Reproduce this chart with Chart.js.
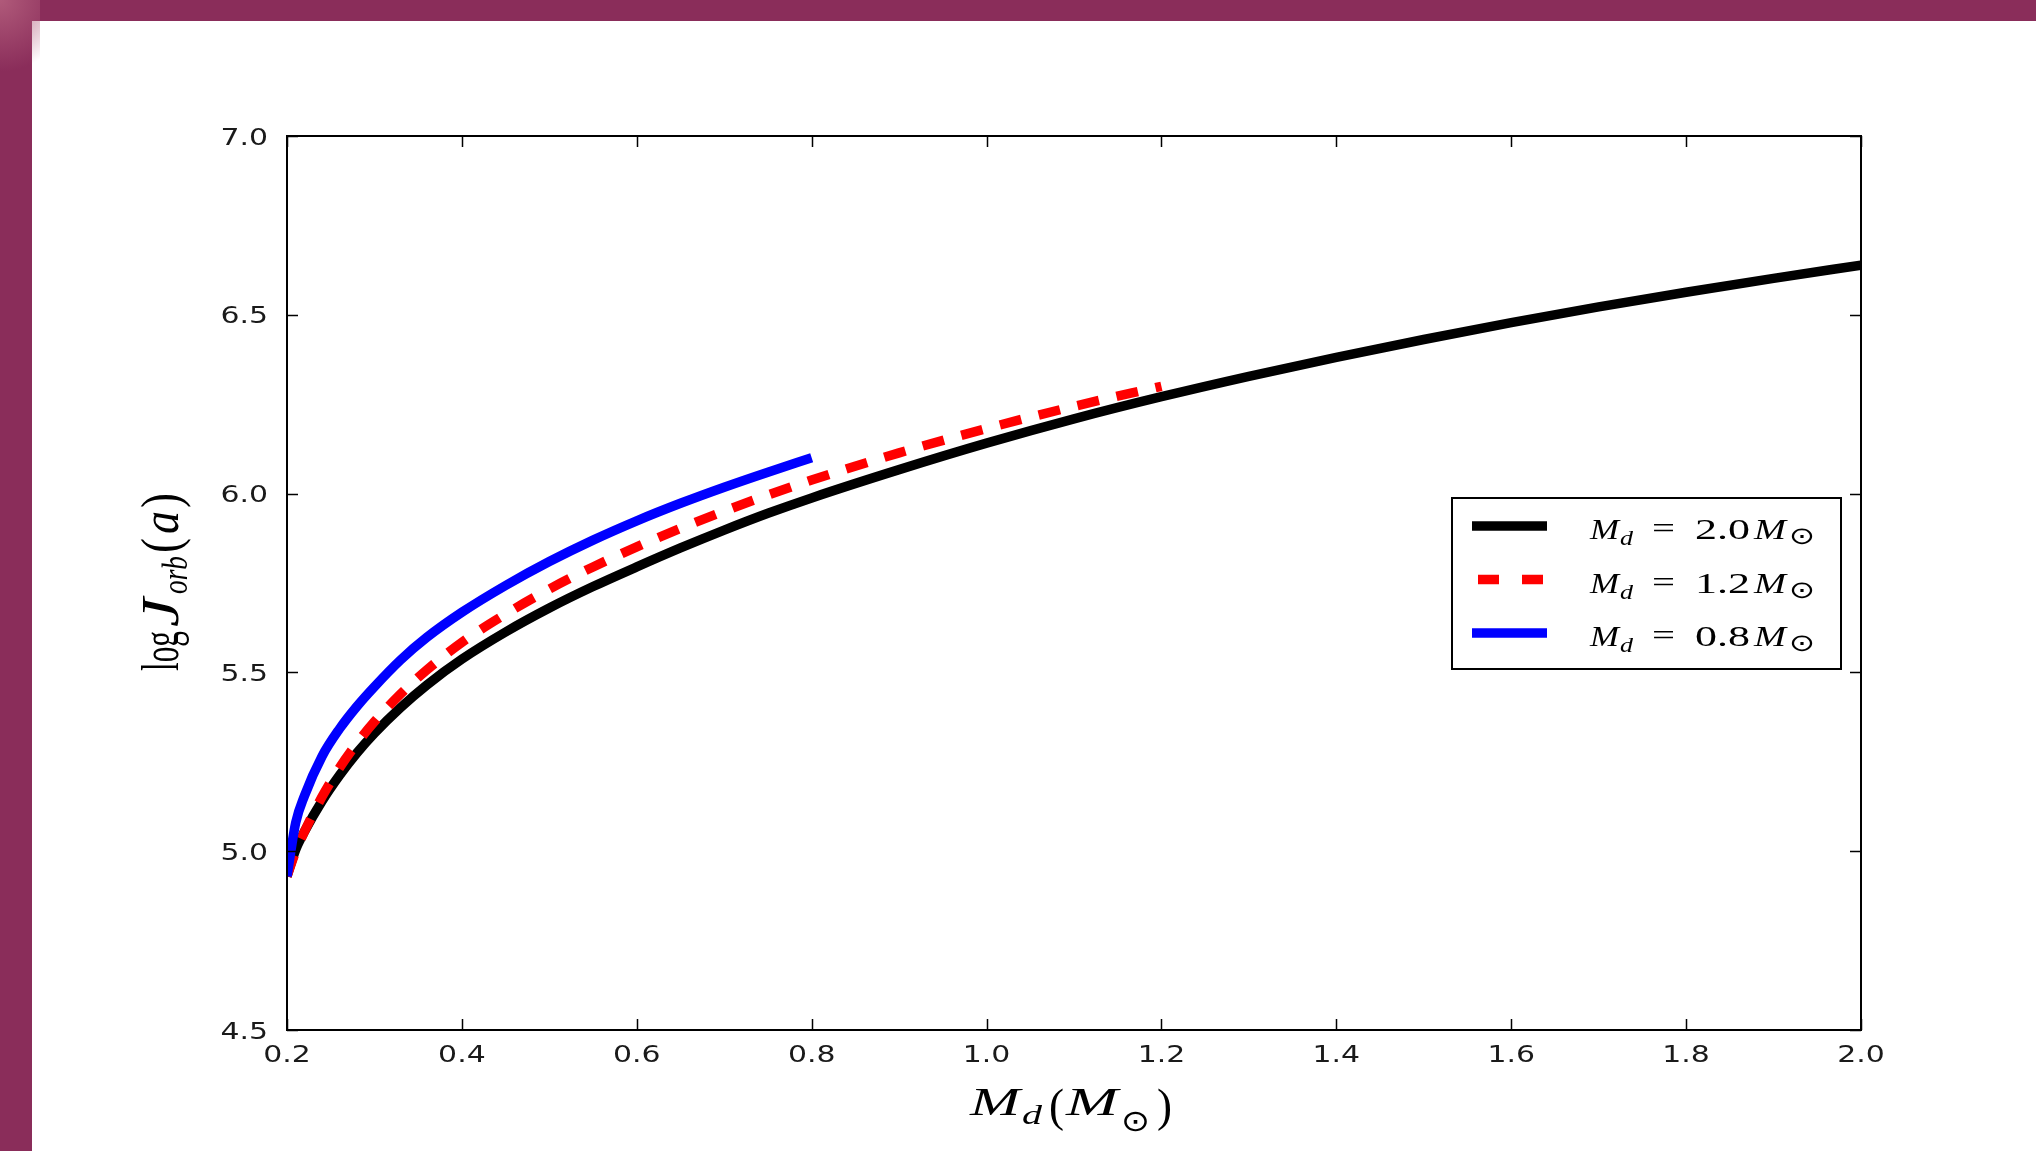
<!DOCTYPE html>
<html><head><meta charset="utf-8">
<script src="https://cdn.jsdelivr.net/npm/chart.js@4.4.0/dist/chart.umd.min.js"></script>
<style>
html,body{margin:0;padding:0;background:#fff;overflow:hidden;}
#wrap{position:relative;width:2036px;height:1151px;background:#fff;}
#bandTop{position:absolute;left:0;top:0;width:2036px;height:21px;background:#8a2d5a;}
#bandLeft{position:absolute;left:0;top:0;width:32px;height:1151px;background:#8a2d5a;}
#corner{position:absolute;left:0;top:0;width:40px;height:80px;background:radial-gradient(circle at 0 0,#b05a7a 0%,rgba(138,45,90,0) 80%);}
canvas{position:absolute;left:0;top:0;}
</style></head><body>
<div id="wrap"><div id="bandTop"></div><div id="bandLeft"></div><div id="corner"></div><canvas id="c" width="2036" height="1151"></canvas></div>
<script>
// ---- data ----
const xTickLabels = ['0.2','0.4','0.6','0.8','1.0','1.2','1.4','1.6','1.8','2.0'];
const yTickLabels = ['4.5','5.0','5.5','6.0','6.5','7.0'];

const massBlack = [0.20,0.21,0.22,0.24,0.26,0.28,0.30,0.33,0.36,0.40,0.45,0.50,0.55,0.60,0.65,0.70,0.75,0.80,0.90,1.00,1.10,1.20,1.30,1.40,1.50,1.60,1.70,1.80,1.90,2.00];
const logJBlack = [4.93,5.005,5.055,5.14,5.212,5.275,5.33,5.402,5.465,5.537,5.613,5.680,5.740,5.795,5.848,5.898,5.945,5.988,6.067,6.141,6.209,6.271,6.328,6.381,6.431,6.478,6.522,6.563,6.602,6.639];

const massRed = [0.20,0.21,0.22,0.24,0.26,0.28,0.30,0.33,0.36,0.40,0.45,0.50,0.55,0.60,0.65,0.70,0.75,0.80,0.90,1.00,1.10,1.20];
const logJRed = [4.93,5.00,5.055,5.152,5.233,5.302,5.362,5.44,5.507,5.584,5.663,5.733,5.795,5.851,5.903,5.951,5.996,6.038,6.114,6.182,6.244,6.300];

const massBlue = [0.20,0.21,0.22,0.24,0.26,0.28,0.30,0.33,0.36,0.40,0.45,0.50,0.55,0.60,0.65,0.70,0.75,0.80];
const logJBlue = [4.93,5.08,5.155,5.265,5.342,5.405,5.46,5.535,5.598,5.668,5.743,5.810,5.870,5.924,5.973,6.018,6.060,6.100];

const seriesMass = ['2.0','1.2','0.8'];
const seriesColor = ['#000000','#ff0000','#0000ff'];

const xTickValues = xTickLabels.map(Number);
const yTickValues = yTickLabels.map(Number);
const toPts = (xs, ys) => xs.map((m, i) => ({x: m, y: ys[i]}));

function drawFit(ctx, text, font, x0, x1, base) {
  ctx.font = font;
  const w = ctx.measureText(text).width;
  ctx.save();
  ctx.translate(x0, base);
  ctx.scale((x1 - x0) / w, 1);
  ctx.textAlign = 'left';
  ctx.textBaseline = 'alphabetic';
  ctx.fillText(text, 0, 0);
  ctx.restore();
}

const SERIF = '"Liberation Serif", "DejaVu Serif", serif';
const decor = {
  id: 'decor',
  afterDatasetsDraw(chart) {
    const {ctx, chartArea: a, scales: {x, y}} = chart;
    ctx.save();
    // frame
    ctx.strokeStyle = '#000';
    ctx.lineWidth = 2;
    ctx.strokeRect(a.left, a.top, a.right - a.left, a.bottom - a.top);
    // inward ticks on four sides
    ctx.lineWidth = 1.5;
    ctx.beginPath();
    x.ticks.forEach(t => {
      const px = Math.round(x.getPixelForValue(t.value)) + 0.5;
      ctx.moveTo(px, a.bottom); ctx.lineTo(px, a.bottom - 11);
      ctx.moveTo(px, a.top); ctx.lineTo(px, a.top + 11);
    });
    y.ticks.forEach(t => {
      const py = Math.round(y.getPixelForValue(t.value)) + 0.5;
      ctx.moveTo(a.left, py); ctx.lineTo(a.left + 11, py);
      ctx.moveTo(a.right, py); ctx.lineTo(a.right - 11, py);
    });
    ctx.stroke();
    // tick labels
    ctx.fillStyle = '#1a1a1a';
    ctx.font = '23px "DejaVu Sans"';
    ctx.textBaseline = 'alphabetic';
    x.ticks.forEach((t, i) => {
      const px = x.getPixelForValue(t.value);
      ctx.save(); ctx.translate(px, a.bottom + 32); ctx.scale(1.3, 1);
      ctx.textAlign = 'center'; ctx.fillText(xTickLabels[i], 0, 0); ctx.restore();
    });
    y.ticks.forEach((t, i) => {
      const py = y.getPixelForValue(t.value);
      ctx.save(); ctx.translate(a.left - 19, py + 8.5); ctx.scale(1.3, 1);
      ctx.textAlign = 'right'; ctx.fillText(yTickLabels[i], 0, 0); ctx.restore();
    });

    // x-axis title  M_d(M_sun)
    ctx.fillStyle = '#000';
    drawFit(ctx, 'M', 'italic 40px ' + SERIF, 970, 1020, 1115);
    drawFit(ctx, 'd', 'italic 28px ' + SERIF, 1022, 1042, 1124);
    drawFit(ctx, '(', '46px ' + SERIF, 1049, 1064, 1121);
    drawFit(ctx, 'M', 'italic 40px ' + SERIF, 1066, 1118, 1115);
    drawFit(ctx, '\u2299', '30px "DejaVu Sans"', 1121, 1150, 1131);
    drawFit(ctx, ')', '46px ' + SERIF, 1157, 1172, 1121);

    // y-axis title  log J_orb(a)  (rotated)
    ctx.save();
    ctx.translate(178, 0);
    ctx.rotate(-Math.PI / 2);
    ctx.scale(1, 1.45);
    drawFit(ctx, 'log', '36px ' + SERIF, -671, -631, 0);
    drawFit(ctx, 'J', 'italic 36px ' + SERIF, -627, -598, 0);
    drawFit(ctx, 'orb', 'italic 25px ' + SERIF, -594, -556, 6);
    drawFit(ctx, '(', '38px ' + SERIF, -553, -538, 1);
    drawFit(ctx, 'a', 'italic 36px ' + SERIF, -534, -511, 0);
    drawFit(ctx, ')', '38px ' + SERIF, -508, -493, 1);
    ctx.restore();

    // legend
    const L = {x: 1452, y: 498, w: 389, h: 171};
    ctx.fillStyle = '#fff';
    ctx.fillRect(L.x, L.y, L.w, L.h);
    ctx.strokeStyle = '#000';
    ctx.lineWidth = 2;
    ctx.strokeRect(L.x, L.y, L.w, L.h);
    const rows = [526, 579.5, 633];
    chart.data.datasets.forEach((ds, i) => {
      const ry = rows[i];
      ctx.save();
      ctx.strokeStyle = ds.borderColor;
      ctx.lineWidth = 9.5;
      ctx.lineCap = 'butt';
      if (ds.borderDash) { ctx.setLineDash([21, 23]); ctx.lineDashOffset = -6; }
      ctx.beginPath(); ctx.moveTo(1472, ry); ctx.lineTo(1547, ry); ctx.stroke();
      ctx.restore();
      ctx.fillStyle = '#000';
      const b = ry + 13;
      drawFit(ctx, 'M', 'italic 30px ' + SERIF, 1590, 1619, b);
      drawFit(ctx, 'd', 'italic 21px ' + SERIF, 1620, 1633, b + 6);
      drawFit(ctx, '=', '30px ' + SERIF, 1652, 1675, b - 1);
      drawFit(ctx, seriesMass[i], '30px ' + SERIF, 1695, 1750, b);
      drawFit(ctx, 'M', 'italic 30px ' + SERIF, 1754, 1786, b);
      drawFit(ctx, '\u2299', '24px "DejaVu Sans"', 1789, 1815, b + 5);
    });
    ctx.restore();
  }
};

new Chart(document.getElementById('c'), {
  type: 'line',
  data: {
    datasets: [
      {label: 'Md=2.0', data: toPts(massBlack, logJBlack), borderColor: seriesColor[0], borderWidth: 9.5,
       pointRadius: 0, cubicInterpolationMode: 'monotone', fill: false, order: 3, clip: 0},
      {label: 'Md=1.2', data: toPts(massRed, logJRed), borderColor: seriesColor[1], borderWidth: 9.5,
       borderDash: [22, 18], pointRadius: 0, cubicInterpolationMode: 'monotone', fill: false, order: 2, clip: 0},
      {label: 'Md=0.8', data: toPts(massBlue, logJBlue), borderColor: seriesColor[2], borderWidth: 9.5,
       pointRadius: 0, cubicInterpolationMode: 'monotone', fill: false, order: 1, clip: 0}
    ]
  },
  options: {
    responsive: false,
    animation: false,
    devicePixelRatio: 1,
    layout: {padding: {top: 136, right: 175, left: 0, bottom: 0}},
    plugins: {legend: {display: false}, tooltip: {enabled: false}},
    scales: {
      x: {type: 'linear', min: 0.2, max: 2.0,
          afterBuildTicks: s => { s.ticks = xTickValues.map(v => ({value: v})); },
          ticks: {display: false}, grid: {display: false, drawTicks: false}, border: {display: false},
          afterFit: s => { s.height = 121; }},
      y: {type: 'linear', min: 4.5, max: 7.0,
          afterBuildTicks: s => { s.ticks = yTickValues.map(v => ({value: v})); },
          ticks: {display: false}, grid: {display: false, drawTicks: false}, border: {display: false},
          afterFit: s => { s.width = 287; }}
    }
  },
  plugins: [decor]
});
</script>
</body></html>
